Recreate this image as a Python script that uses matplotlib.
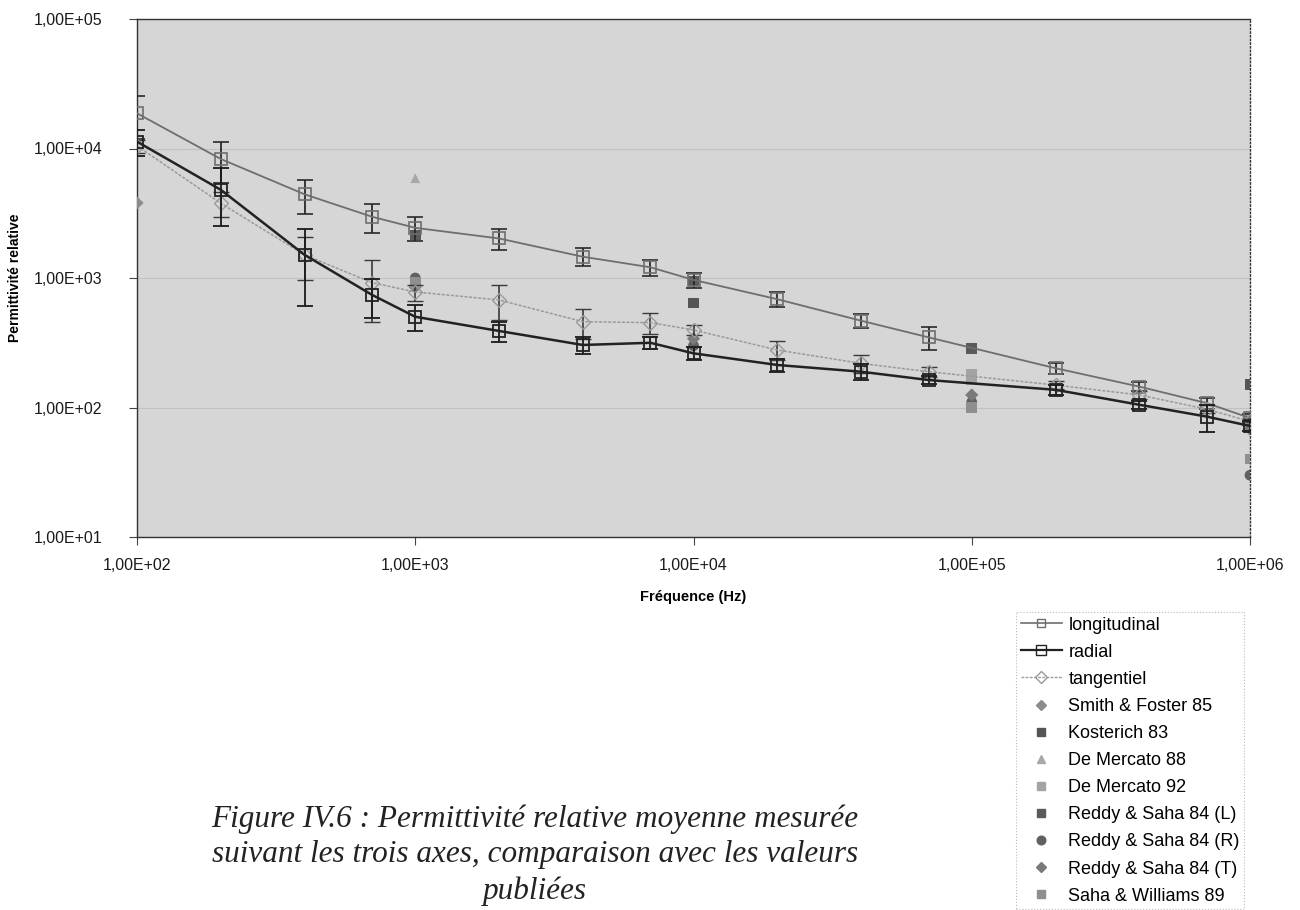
import matplotlib
matplotlib.use("Agg")
import matplotlib.pyplot as plt
from matplotlib.ticker import FixedLocator, NullLocator
from matplotlib.lines import Line2D

plt.rcParams['font.family'] = ['Liberation Sans', 'DejaVu Sans']

# ---------------- data ----------------
freq = [100, 200, 400, 700, 1000, 2000, 4000, 7000, 10000, 20000, 40000, 70000,
        200000, 400000, 700000, 1000000]

long_val = [18700, 8300, 4430, 2970, 2440, 2020, 1460, 1210, 967, 686, 468, 348,
            201, 145, 108, 83]
long_err = [6900, 2900, 1300, 730, 520, 380, 230, 170, 130, 90, 60, 70,
            19, 12, 10, 6]

rad_val = [11300, 4800, 1510, 740, 502, 390, 304, 316, 262, 213, 189, 163,
           137, 105, 85, 72]
rad_err = [2500, 2300, 900, 250, 115, 70, 45, 35, 30, 24, 27, 12,
           12, 8, 20, 6]

tan_val = [10500, 3780, 1510, 920, 780, 677, 460, 452, 397, 278, 219, 189,
           149, 125, 97, 78]
tan_err = [1200, 800, 550, 460, 110, 200, 120, 80, 36, 46, 35, 17,
           10, 8, 7, 5]

pub_names = ["Smith & Foster 85", "Kosterich 83", "De Mercato 88", "De Mercato 92",
             "Reddy & Saha 84 (L)", "Reddy & Saha 84 (R)", "Reddy & Saha 84 (T)",
             "Saha & Williams 89"]
pub_x = [
    [100],
    [10000, 1000000],
    [1000],
    [100000, 100000, 1000000],
    [1000, 10000, 100000],
    [1000, 10000, 100000, 1000000],
    [1000, 10000, 100000, 1000000],
    [1000, 100000, 1000000],
]
pub_y = [
    [3800],
    [640, 150],
    [5900],
    [180, 165, 85],
    [2150, 950, 285],
    [1000, 300, 110, 30],
    [850, 340, 125, 68],
    [920, 100, 40],
]

ytick_vals = [10, 100, 1000, 10000, 100000]
ytick_labels = ["1,00E+01", "1,00E+02", "1,00E+03", "1,00E+04", "1,00E+05"]
xtick_vals = [100, 1000, 10000, 100000, 1000000]
xtick_labels = ["1,00E+02", "1,00E+03", "1,00E+04", "1,00E+05", "1,00E+06"]

# ---------------- figure ----------------
fig = plt.figure(figsize=(13, 9.1), dpi=100)
ax = fig.add_axes([137/1300, 1-537/910, (1250-137)/1300, (537-19)/910])
ax.set_facecolor('#d6d6d6')
ax.set_xscale('log')
ax.set_yscale('log')
ax.set_xlim(100, 1e6)
ax.set_ylim(10, 1e5)

ax.yaxis.set_major_locator(FixedLocator(ytick_vals))
ax.set_yticklabels(ytick_labels)
ax.xaxis.set_major_locator(FixedLocator(xtick_vals))
ax.set_xticklabels(xtick_labels)
ax.xaxis.set_minor_locator(NullLocator())
ax.yaxis.set_minor_locator(NullLocator())
ax.tick_params(axis='both', labelsize=11.5, color='#444444', length=6, width=0.8,
               labelcolor='#1a1a1a')
ax.tick_params(axis='y', pad=19)
ax.tick_params(axis='x', pad=9)
ax.grid(axis='y', color='#c2c2c2', linewidth=0.8)
for s in ax.spines.values():
    s.set_color('#333333')
    s.set_linewidth(1.0)
ax.spines['right'].set_linestyle(':')

# published points
pub_styles = [
    dict(marker='D', color='#8c8c8c', s=45),
    dict(marker='s', color='#555555', s=60),
    dict(marker='^', color='#a8a8a8', s=50),
    dict(marker='s', color='#a4a4a4', s=60),
    dict(marker='s', color='#5a5a5a', s=60),
    dict(marker='o', color='#606060', s=60),
    dict(marker='D', color='#7a7a7a', s=45),
    dict(marker='s', color='#8f8f8f', s=60),
]
pub_handles = []
for name, xs, ys, st in zip(pub_names, pub_x, pub_y, pub_styles):
    ax.scatter(xs, ys, marker=st['marker'], s=st['s'], color=st['color'],
               edgecolors='none', zorder=3)
    pub_handles.append(Line2D([], [], ls='none', marker=st['marker'],
                              color=st['color'], ms=st['s'] ** 0.5 * 0.8))

# measured series
ax.errorbar(freq, long_val, yerr=long_err, color='#6e6e6e', lw=1.3,
            marker='s', ms=9, mfc='none', mec='#6e6e6e', mew=1.2,
            ecolor='#2a2a2a', elinewidth=1.3, capsize=6, capthick=1.3, zorder=4)
ax.errorbar(freq, rad_val, yerr=rad_err, color='#222222', lw=1.8,
            marker='s', ms=9, mfc='none', mec='#222222', mew=1.3,
            ecolor='#1a1a1a', elinewidth=1.3, capsize=6, capthick=1.3, zorder=5)
ax.errorbar(freq, tan_val, yerr=tan_err, color='#9a9a9a', lw=1.1, ls=(0, (2, 1)),
            marker='D', ms=7, mfc='none', mec='#9a9a9a', mew=1.0,
            ecolor='#3a3a3a', elinewidth=1.2, capsize=6, capthick=1.2, zorder=4)

h_long = Line2D([], [], color='#6e6e6e', lw=1.2, marker='s', ms=6, mfc='none', mec='#6e6e6e')
h_rad = Line2D([], [], color='#222222', lw=1.6, marker='s', ms=7, mfc='none', mec='#222222')
h_tan = Line2D([], [], color='#9a9a9a', lw=1.0, ls=(0, (2, 1)), marker='D', ms=6,
               mfc='none', mec='#9a9a9a')

ax.set_ylabel("Permittivité relative", fontsize=10, fontweight='bold')
ax.set_xlabel("Fréquence (Hz)", fontsize=10.5, fontweight='bold', labelpad=12)
ax.yaxis.set_label_coords(-0.103, 0.5)

# legend
handles = [h_long, h_rad, h_tan] + pub_handles
labels = ['longitudinal', 'radial', 'tangentiel'] + pub_names
leg = fig.legend(handles, labels, loc='upper left',
                 bbox_to_anchor=(1016/1300, 1-612/910), fontsize=13,
                 frameon=True, fancybox=False, edgecolor='#aaaaaa',
                 handlelength=2.3, handletextpad=0.35, labelspacing=0.56,
                 borderpad=0.25, borderaxespad=0)
leg.get_frame().set_linewidth(0.8)
leg.get_frame().set_linestyle(':')

# caption
cap = ("Figure IV.6 : Permittivité relative moyenne mesurée\n"
       "suivant les trois axes, comparaison avec les valeurs\n"
       "publiées")
fig.text(535/1300, 1-855/910, cap, ha='center', va='center', fontsize=22.5,
         family=['Liberation Serif', 'DejaVu Serif'], style='italic',
         linespacing=1.3, color='#222222')

fig.savefig("out.png", dpi=100, facecolor='white')
